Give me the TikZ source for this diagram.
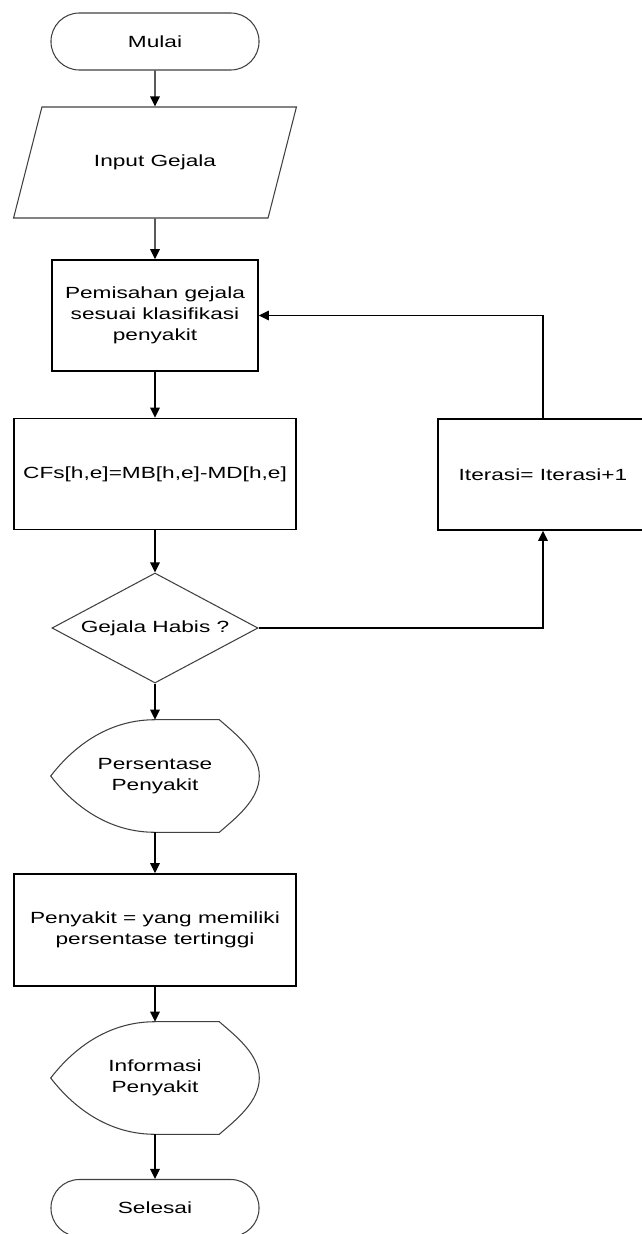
\documentclass[tikz,border=0pt]{standalone}
\usepackage{fontspec}
\newfontfamily\chartfont[FakeStretch=1.4]{Liberation Sans}
\usetikzlibrary{shapes.geometric,arrows.meta}

\tikzset{
  terminal/.style={draw=black!75, line width=0.75pt, rectangle, rounded corners=0.71cm, minimum width=5.2cm, minimum height=1.425cm},
  proses/.style={draw, line width=1.1pt, rectangle, minimum height=2.775cm},
  masukan/.style={draw=black!75, line width=0.75pt, trapezium, trapezium left angle=56, trapezium right angle=124, trapezium stretches=true, minimum width=7.075cm, minimum height=2.775cm},
  keputusan/.style={draw=black!75, line width=0.75pt, diamond, aspect=1.87, inner sep=0pt, minimum width=5.15cm, minimum height=2.75cm},
  tampilan/.style={rectangle, minimum width=5.2cm, minimum height=2.8cm},
  panah/.style={-{Triangle[length=0.25cm,width=0.24cm]}, line width=0.9pt}
}

% garis luar simbol tampilan (display)
\newcommand{\gambartampilan}[1]{
  \draw[black!75, line width=0.75pt] (#1.north) -- ([xshift=-1cm]#1.north east)
    .. controls ([xshift=-0.6cm,yshift=-0.35cm]#1.north east) and ([yshift=0.6cm]#1.east) .. (#1.east)
    .. controls ([yshift=-0.6cm]#1.east) and ([xshift=-0.6cm,yshift=0.35cm]#1.south east) .. ([xshift=-1cm]#1.south east)
    -- (#1.south)
    .. controls ([xshift=-1.4cm]#1.south) and ([xshift=0.35cm,yshift=-0.45cm]#1.west) .. (#1.west)
    .. controls ([xshift=0.35cm,yshift=0.45cm]#1.west) and ([xshift=-1.4cm]#1.north) .. (#1.north);
}

\begin{document}
\begin{tikzpicture}[x=0.025cm, y=-0.025cm, every node/.style={font=\chartfont\fontsize{11.5}{14.8}\selectfont, align=center}]
        \useasboundingbox (0,0) rectangle (641,1234);

        % Mulai dan input
        \node[terminal] (mulai) at (155, 41.5) {Mulai};
        \node[masukan] (input) at (155, 162.5) {Input Gejala};

        % Proses utama
        \node[proses, minimum width=5.15cm] (pisah) at (155, 315.5) {Pemisahan gejala\\sesuai klasifikasi\\penyakit};
        \node[proses, minimum width=7.05cm] (cfs) at (155, 474) {CFs[h,e]=MB[h,e]-MD[h,e]};
        \node[proses, minimum width=5.25cm] (iter) at (543, 474.5) {Iterasi= Iterasi+1};

        % Pengecekan gejala
        \node[keputusan] (cek) at (155, 628) {Gejala Habis ?};

        % Hasil
        \node[tampilan] (pct) at (155, 776) {Persentase\\Penyakit};
        \gambartampilan{pct}
        \node[proses, minimum width=7.05cm, minimum height=2.8cm] (tinggi) at (155, 930) {Penyakit = yang memiliki\\persentase tertinggi};
        \node[tampilan] (info) at (155, 1078) {Informasi\\Penyakit};
        \gambartampilan{info}
        \node[terminal] (selesai) at (155, 1208) {Selesai};

        % Panah alur
        \draw[panah] (mulai) -- (input);
        \draw[panah] (input) -- (pisah);
        \draw[panah] (pisah) -- (cfs);
        \draw[panah] (cfs) -- (cek);
        \draw[panah] (cek.east) -| (iter.south);
        \draw[panah] (iter.north) |- (pisah.east);
        \draw[panah] (cek) -- (pct);
        \draw[panah] (pct) -- (tinggi);
        \draw[panah] (tinggi) -- (info);
        \draw[panah] (info) -- (selesai);
\end{tikzpicture}
\end{document}
